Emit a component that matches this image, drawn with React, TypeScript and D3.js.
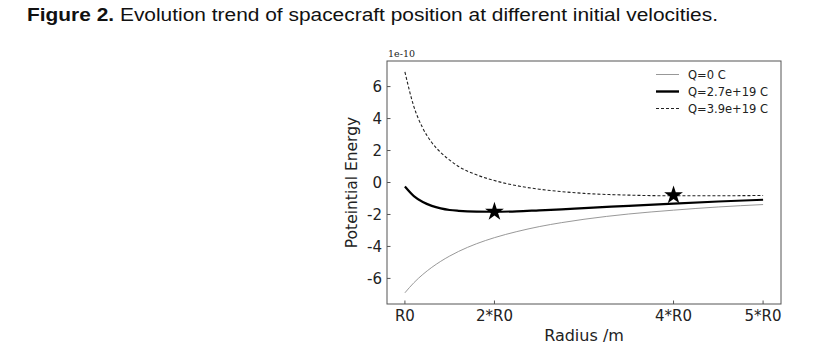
import { useEffect, useRef } from 'react';
import * as d3 from 'd3';

// radius in units of R0
const radii = [1, 1.1, 1.2, 1.3, 1.4, 1.5, 1.6, 1.8, 2, 2.25, 2.5, 2.75, 3, 3.5, 4, 4.5, 5];

// potential energy, in units of 1e-10
const q0 = [-6.9, -6.27, -5.75, -5.31, -4.93, -4.6, -4.31, -3.83, -3.45, -3.07, -2.76, -2.51, -2.3, -1.97, -1.73, -1.53, -1.38];
const q27 = [-0.25, -0.85, -1.22, -1.46, -1.62, -1.72, -1.77, -1.82, -1.83, -1.8, -1.74, -1.68, -1.6, -1.46, -1.32, -1.19, -1.08];
const q39 = [6.92, 4.75, 3.4, 2.5, 1.88, 1.4, 1.0, 0.48, 0.12, -0.2, -0.42, -0.57, -0.68, -0.79, -0.83, -0.83, -0.81];

const starR = [2, 4];
const starE = [-1.83, -0.8];

const xTicks = [1, 2, 4, 5];
const xTickLabels = ['R0', '2*R0', '4*R0', '5*R0'];
const yTicks = [-6, -4, -2, 0, 2, 4, 6];

const legendLabels = ['Q=0 C', 'Q=2.7e+19 C', 'Q=3.9e+19 C'];

export default function App() {
  const svgRef = useRef<SVGSVGElement | null>(null);

  useEffect(() => {
    if (!svgRef.current) return;
    const svg = d3.select(svgRef.current);
    svg.selectAll('*').remove();

    const margin = { left: 387, top: 61, right: 781, bottom: 304 };
    const x = d3.scaleLinear().domain([0.8, 5.2]).range([margin.left, margin.right]);
    const y = d3.scaleLinear().domain([-7.6, 7.6]).range([margin.bottom, margin.top]);

    // title
    const title = svg.append('text')
      .attr('x', 27)
      .attr('y', 21)
      .attr('font-family', 'Liberation Sans, Arial, sans-serif')
      .attr('font-size', 17.5)
      .attr('fill', '#111')
      .attr('textLength', 691)
      .attr('lengthAdjust', 'spacingAndGlyphs');
    title.append('tspan').attr('font-weight', 'bold').text('Figure 2.');
    title.append('tspan').text(' Evolution trend of spacecraft position at different initial velocities.');

    const font = 'DejaVu Sans, sans-serif';

    // series
    const line = d3.line<number>()
      .x((_, i) => x(radii[i]))
      .y(d => y(d))
      .curve(d3.curveMonotoneX);

    svg.append('path')
      .attr('d', line(q0) || '')
      .attr('fill', 'none')
      .attr('stroke', '#8c8c8c')
      .attr('stroke-width', 0.9);

    svg.append('path')
      .attr('d', line(q39) || '')
      .attr('fill', 'none')
      .attr('stroke', '#222')
      .attr('stroke-width', 1.1)
      .attr('stroke-dasharray', '3,2');

    svg.append('path')
      .attr('d', line(q27) || '')
      .attr('fill', 'none')
      .attr('stroke', '#000')
      .attr('stroke-width', 2.2);

    const star = d3.symbol().type(d3.symbolStar).size(110);
    starR.forEach((r, i) => {
      svg.append('path')
        .attr('d', star() || '')
        .attr('transform', `translate(${x(r)},${y(starE[i])})`)
        .attr('fill', '#000');
    });

    // frame
    svg.append('rect')
      .attr('x', margin.left)
      .attr('y', margin.top)
      .attr('width', margin.right - margin.left)
      .attr('height', margin.bottom - margin.top)
      .attr('fill', 'none')
      .attr('stroke', '#555')
      .attr('stroke-width', 1);

    // y ticks (inward)
    yTicks.forEach(t => {
      svg.append('line')
        .attr('x1', margin.left).attr('x2', margin.left + 3.5)
        .attr('y1', y(t)).attr('y2', y(t))
        .attr('stroke', '#555');
      svg.append('text')
        .attr('x', margin.left - 5)
        .attr('y', y(t))
        .attr('dy', '0.36em')
        .attr('text-anchor', 'end')
        .attr('font-family', font)
        .attr('font-size', 15)
        .attr('fill', '#222')
        .text(String(t));
    });

    // x ticks (inward)
    xTicks.forEach((t, i) => {
      svg.append('line')
        .attr('x1', x(t)).attr('x2', x(t))
        .attr('y1', margin.bottom).attr('y2', margin.bottom - 3.5)
        .attr('stroke', '#555');
      svg.append('text')
        .attr('x', x(t))
        .attr('y', margin.bottom + 17)
        .attr('text-anchor', 'middle')
        .attr('font-family', font)
        .attr('font-size', 15)
        .attr('fill', '#222')
        .text(xTickLabels[i]);
    });

    // offset text
    svg.append('text')
      .attr('x', margin.left + 1)
      .attr('y', margin.top - 4)
      .attr('font-family', 'DejaVu Serif, serif')
      .attr('font-size', 9.5)
      .attr('fill', '#222')
      .text('1e-10');

    // axis labels
    svg.append('text')
      .attr('x', (margin.left + margin.right) / 2)
      .attr('y', 341)
      .attr('text-anchor', 'middle')
      .attr('font-family', font)
      .attr('font-size', 16)
      .attr('fill', '#222')
      .text('Radius /m');

    svg.append('text')
      .attr('transform', `translate(357,${(margin.top + margin.bottom) / 2}) rotate(-90)`)
      .attr('text-anchor', 'middle')
      .attr('font-family', font)
      .attr('font-size', 15.5)
      .attr('fill', '#222')
      .text('Poteintial Energy');

    // legend
    const styles = [
      { stroke: '#8c8c8c', width: 0.9, dash: '' },
      { stroke: '#000', width: 2.4, dash: '' },
      { stroke: '#222', width: 1.1, dash: '3,2' }
    ];
    legendLabels.forEach((label, i) => {
      const ly = 74.5 + i * 17;
      svg.append('line')
        .attr('x1', 656).attr('x2', 679)
        .attr('y1', ly).attr('y2', ly)
        .attr('stroke', styles[i].stroke)
        .attr('stroke-width', styles[i].width)
        .attr('stroke-dasharray', styles[i].dash);
      svg.append('text')
        .attr('x', 688)
        .attr('y', ly)
        .attr('dy', '0.36em')
        .attr('font-family', font)
        .attr('font-size', 11.5)
        .attr('fill', '#222')
        .text(label);
    });
  }, []);

  return (
    <svg
      ref={svgRef}
      width={827}
      height={352}
      style={{ position: 'absolute', left: 0, top: 0, background: '#fff' }}
    />
  );
}
